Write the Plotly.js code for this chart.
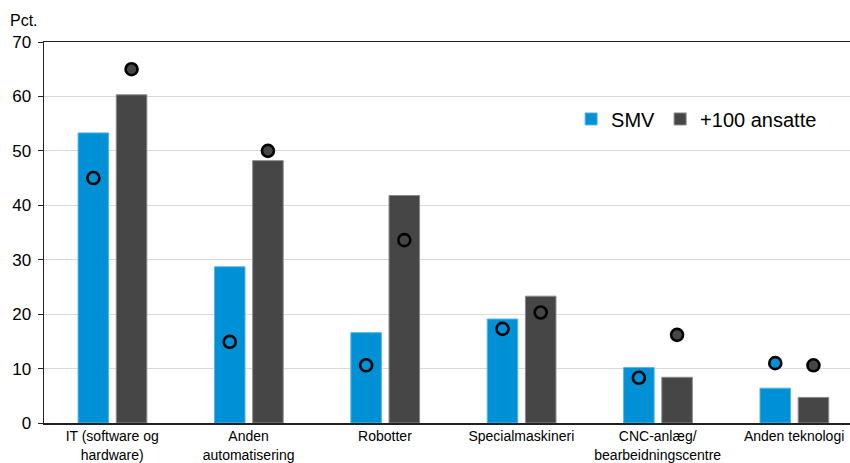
<!DOCTYPE html>
<html><head><meta charset="utf-8">
<script src="https://cdn.plot.ly/plotly-3.0.1.min.js"></script>
<style>html,body{margin:0;padding:0;background:#fff}#chart{width:850px;height:463px}</style>
</head><body><div id="chart"></div>
<script>
const categories = ["IT (software og<br>hardware)", "Anden<br>automatisering", "Robotter", "Specialmaskineri", "CNC-anlæg/<br>bearbeidningscentre", "Anden teknologi"];
const smvBars = [53.3, 28.7, 16.6, 19.1, 10.2, 6.4];
const bigBars = [60.3, 48.2, 41.8, 23.3, 8.4, 4.7];
const smvDots = [45.0, 14.9, 10.6, 17.3, 8.3, 11.0];
const bigDots = [65.0, 50.0, 33.6, 20.3, 16.2, 10.6];
const seriesNames = ["SMV", "+100 ansatte"];
const yTicks = [0, 10, 20, 30, 40, 50, 60, 70];

const BLUE = "#0090d5", DARK = "#464646";
const idx = categories.map((_, i) => i);
const W = 0.224, OFF1 = -0.25, OFF2 = 0.03;

const traces = [
  {type: "bar", name: seriesNames[0], x: idx, y: smvBars, width: W, offset: OFF1,
   marker: {color: BLUE, line: {color: "#5ab4e4", width: 1}}, hoverinfo: "y"},
  {type: "bar", name: seriesNames[1], x: idx, y: bigBars, width: W, offset: OFF2,
   marker: {color: DARK, line: {color: "#8a8a8a", width: 1}}, hoverinfo: "y"},
  {type: "scatter", mode: "markers", showlegend: false, x: idx.map(i => i + OFF1 + W / 2), y: smvDots,
   marker: {symbol: "circle", size: 12, color: BLUE, line: {color: "#000", width: 2.6}}},
  {type: "scatter", mode: "markers", showlegend: false, x: idx.map(i => i + OFF2 + W / 2), y: bigDots,
   marker: {symbol: "circle", size: 12, color: DARK, line: {color: "#000", width: 2.6}}}
];

const layout = {
  width: 850, height: 463,
  margin: {l: 44, r: 0, t: 42, b: 40},
  paper_bgcolor: "#fff", plot_bgcolor: "#fff",
  font: {family: "Liberation Sans, Arial, sans-serif", color: "#000"},
  barmode: "overlay",
  showlegend: true,
  legend: {orientation: "h", x: 0.654, y: 0.798, xanchor: "left", yanchor: "middle",
           font: {size: 20, color: "#000"}, bgcolor: "rgba(0,0,0,0)", itemwidth: 30, traceorder: "normal"},
  xaxis: {range: [-0.5, 5.41], tickvals: idx, ticktext: categories, tickfont: {size: 14, color: "#000"},
          showgrid: false, zeroline: false, showline: true, linecolor: "#222", linewidth: 1.5,
          mirror: true, ticks: "", fixedrange: true},
  yaxis: {range: [0, 70], tickvals: yTicks, tickfont: {size: 17, color: "#000"},
          showgrid: true, gridcolor: "#d9d9d9", gridwidth: 1, zeroline: false,
          showline: true, linecolor: "#222", linewidth: 1.5, ticks: "outside", ticklen: 5,
          tickcolor: "#222", ticklabelstandoff: 3, fixedrange: true},
  annotations: [{text: "Pct.", xref: "paper", yref: "paper", x: 0, y: 1, xshift: -36, yshift: 22,
                 xanchor: "left", yanchor: "middle", showarrow: false, font: {size: 16, color: "#000"}}]
};

Plotly.newPlot("chart", traces, layout, {displayModeBar: false, staticPlot: true});
</script></body></html>
